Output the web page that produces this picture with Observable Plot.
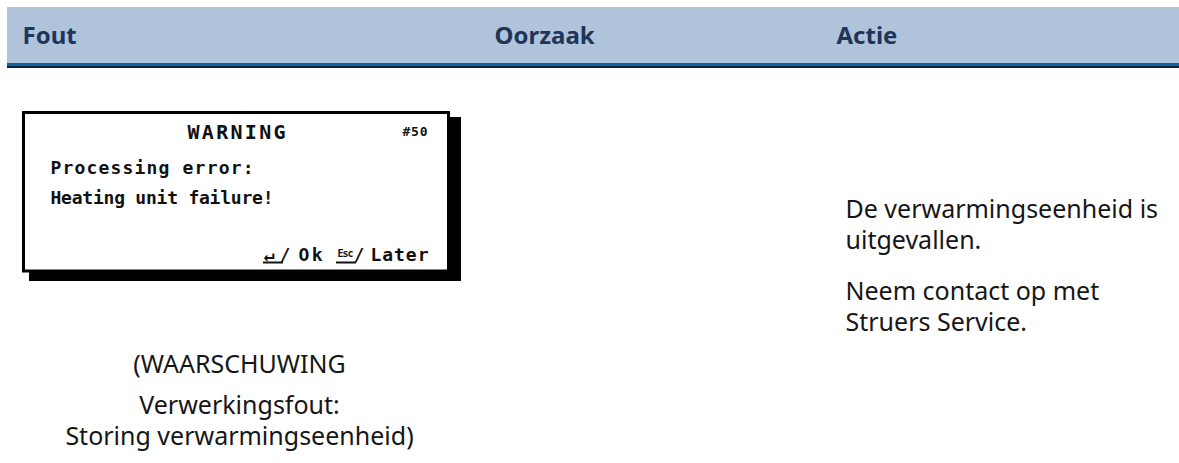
<!DOCTYPE html>
<html>
<head>
<meta charset="utf-8">
<script src="https://cdn.jsdelivr.net/npm/d3@7"></script>
<script src="https://cdn.jsdelivr.net/npm/@observablehq/plot@0.6"></script>
<style>
  html, body { margin: 0; padding: 0; background: #ffffff; }
  #chart svg { display: block; }
</style>
</head>
<body>
<div id="chart"></div>
<script>
// ---- content (text only) ----
const headerLabels = ["Fout", "Oorzaak", "Actie"];
const lcdTitle = "WARNING";
const lcdCode = "#50";
const lcdLines = ["Processing error:", "Heating unit failure!"];
const lcdKeys = ["↵", "/", "Ok", "Esc", "/", "Later"];
const translationLines = ["(WAARSCHUWING", "Verwerkingsfout:", "Storing verwarmingseenheid)"];
const actionLines = ["De verwarmingseenheid is", "uitgevallen.", "Neem contact op met", "Struers Service."];

// ---- layout (positions / sizes / styles) ----
const W = 1179, H = 463;
const headerX = [22, 494, 836];
const headerBaseline = 43;
const actionX = 845;
const actionBaselines = [217, 248, 299, 330];
const translationX = 239;
const translationBaselines = [372, 413, 444];
const lcdLineBaselines = [173, 203];
const lcdLineLengths = [203, 223];
const keyX = [263, 279, 298, 337, 353, 370];
const keyBaseline = [260, 260, 260, 256, 260, 260];
const keySize = [18, 18, 18, 10, 18, 18];
const keyLength = [null, null, 24, 16, null, 58];

const bodyFont = "'Noto Sans', 'Open Sans', sans-serif";
const lcdFont = "'DejaVu Sans Mono', 'Liberation Mono', monospace";

const headerRows = headerLabels.map((t, i) => ({t, x: headerX[i], y: headerBaseline}));
const transRows = translationLines.map((t, i) => ({t, x: translationX, y: translationBaselines[i]}));
const actionRows = actionLines.map((t, i) => ({t, x: actionX, y: actionBaselines[i]}));
const lcdRows = lcdLines.map((t, i) => ({t, x: 50, y: lcdLineBaselines[i], len: lcdLineLengths[i]}));
const keyRows = lcdKeys.map((t, i) => ({t, x: keyX[i], y: keyBaseline[i], s: keySize[i], len: keyLength[i]}));

const bands = [
  {x1: 7, x2: W, y1: 7, y2: 63, fill: "#afc4da"},
  {x1: 7, x2: W, y1: 63, y2: 66, fill: "#0e64a0"},
  {x1: 7, x2: W, y1: 66, y2: 68, fill: "#0b2238"}
];

const plot = Plot.plot({
  width: W,
  height: H,
  margin: 0,
  x: {domain: [0, W], range: [0, W], axis: null},
  y: {domain: [0, H], range: [0, H], axis: null},
  style: {background: "#ffffff"},
  marks: [
    Plot.rect(bands, {x1: "x1", x2: "x2", y1: "y1", y2: "y2", fill: "fill"}),
    Plot.text(headerRows, {x: "x", y: "y", text: "t", textAnchor: "start", lineAnchor: "bottom",
      fontFamily: bodyFont, fontSize: 24, fontWeight: "bold", fill: "#21355a"}),
    // LCD screenshot: shadow + framed panel
    Plot.rect([{x1: 29, x2: 461, y1: 117, y2: 281}], {x1: "x1", x2: "x2", y1: "y1", y2: "y2", fill: "#000"}),
    Plot.rect([{x1: 23.5, x2: 448.5, y1: 112.5, y2: 271}], {x1: "x1", x2: "x2", y1: "y1", y2: "y2",
      fill: "#fff", stroke: "#000", strokeWidth: 3}),
    Plot.text([{t: lcdTitle, x: 187, y: 138, len: 98}], {x: "x", y: "y", text: "t", textAnchor: "start", lineAnchor: "bottom",
      fontFamily: lcdFont, fontSize: 20, fontWeight: "bold", fill: "#111"}),
    Plot.text([{t: lcdCode, x: 402, y: 135, len: 25}], {x: "x", y: "y", text: "t", textAnchor: "start", lineAnchor: "bottom",
      fontFamily: lcdFont, fontSize: 13, fontWeight: "bold", fill: "#111"}),
    Plot.text(lcdRows, {x: "x", y: "y", text: "t", textAnchor: "start", lineAnchor: "bottom",
      fontFamily: lcdFont, fontSize: 18, fontWeight: "bold", fill: "#111"}),
    Plot.text(keyRows, {x: "x", y: "y", text: "t", fontSize: "s", textAnchor: "start", lineAnchor: "bottom",
      fontFamily: lcdFont, fontWeight: "bold", fill: "#111"}),
    Plot.ruleY([{y: 262, x1: 263, x2: 283}, {y: 262, x1: 336, x2: 356}], {y: "y", x1: "x1", x2: "x2", stroke: "#111", strokeWidth: 2}),
    // translation under the screenshot
    Plot.text(transRows, {x: "x", y: "y", text: "t", textAnchor: "middle", lineAnchor: "bottom",
      fontFamily: bodyFont, fontSize: 25, fill: "#161616"}),
    // action column
    Plot.text(actionRows, {x: "x", y: "y", text: "t", textAnchor: "start", lineAnchor: "bottom",
      fontFamily: bodyFont, fontSize: 25, fill: "#161616"})
  ]
});

// stretch the pixel-font LCD texts to their measured widths
const lengths = new Map();
[{t: lcdTitle, len: 98}, {t: lcdCode, len: 25}, ...lcdRows, ...keyRows].forEach(d => { if (d.len) lengths.set(d.t, d.len); });
d3.select(plot).selectAll("text").each(function() {
  const L = lengths.get(this.textContent);
  const g = this.closest("g");
  if (L && g && g.getAttribute("font-family") === lcdFont) {
    this.setAttribute("textLength", L);
    this.setAttribute("lengthAdjust", "spacing");
  }
});

document.getElementById("chart").appendChild(plot);
</script>
</body>
</html>
